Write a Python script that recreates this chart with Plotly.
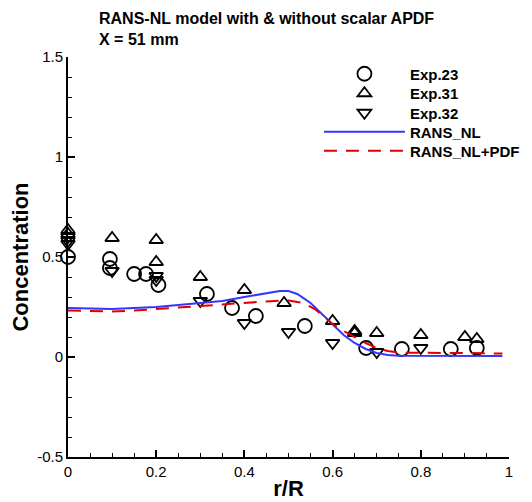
import plotly.graph_objects as go

# ---- data ----
exp23_r = [0, 0.095, 0.095, 0.15, 0.177, 0.205, 0.315, 0.372, 0.426, 0.537, 0.676, 0.757, 0.868, 0.927]
exp23_c = [0.50, 0.49, 0.445, 0.415, 0.415, 0.36, 0.315, 0.245, 0.205, 0.155, 0.045, 0.04, 0.04, 0.045]

exp31_r = [0, 0, 0.10, 0.20, 0.20, 0.30, 0.40, 0.49, 0.60, 0.65, 0.65, 0.70, 0.80, 0.90, 0.927]
exp31_c = [0.635, 0.615, 0.595, 0.585, 0.475, 0.40, 0.335, 0.27, 0.18, 0.13, 0.12, 0.12, 0.11, 0.10, 0.09]

exp32_r = [0, 0, 0, 0.10, 0.20, 0.20, 0.30, 0.40, 0.50, 0.60, 0.70, 0.80]
exp32_c = [0.60, 0.58, 0.565, 0.43, 0.405, 0.385, 0.28, 0.17, 0.125, 0.07, 0.025, 0.045]

nl_r = [0, 0.05, 0.1, 0.15, 0.2, 0.25, 0.3, 0.35, 0.4, 0.45, 0.48, 0.5, 0.52, 0.55, 0.575,
        0.6, 0.625, 0.65, 0.675, 0.7, 0.725, 0.75, 0.8, 0.85, 0.9, 0.95, 0.985]
nl_c = [0.245, 0.243, 0.24, 0.245, 0.25, 0.26, 0.27, 0.28, 0.30, 0.32, 0.33, 0.33, 0.315, 0.27, 0.215,
        0.16, 0.11, 0.07, 0.04, 0.02, 0.01, 0.006, 0.005, 0.005, 0.005, 0.005, 0.005]

pdf_r = [0, 0.05, 0.1, 0.15, 0.2, 0.25, 0.3, 0.35, 0.4, 0.45, 0.5, 0.53, 0.56, 0.6, 0.625,
         0.65, 0.675, 0.7, 0.725, 0.75, 0.8, 0.85, 0.9, 0.95, 0.985]
pdf_c = [0.232, 0.23, 0.228, 0.232, 0.24, 0.248, 0.255, 0.262, 0.27, 0.278, 0.283, 0.272, 0.24, 0.165, 0.13,
         0.1, 0.07, 0.045, 0.03, 0.022, 0.02, 0.02, 0.02, 0.018, 0.017]

y_ticks = [-0.5, 0, 0.5, 1, 1.5]
y_tick_labels = ["-0.5", "0", "0.5", "1", "1.5"]
x_ticks = [0, 0.2, 0.4, 0.6, 0.8, 1]
x_tick_labels = ["0", "0.2", "0.4", "0.6", "0.8", "1"]

title_text = "RANS-NL model with & without scalar APDF<br>X = 51 mm"

FONT = "Liberation Sans, Arial, sans-serif"

fig = go.Figure()
fig.add_trace(go.Scatter(x=exp23_r, y=exp23_c, mode="markers", name="Exp.23", cliponaxis=False,
                         legend="legend",
                         marker=dict(symbol="circle-open", size=14, color="black", line=dict(width=1.8))))
fig.add_trace(go.Scatter(x=exp31_r, y=exp31_c, mode="markers", name="Exp.31", cliponaxis=False,
                         legend="legend2",
                         marker=dict(symbol="triangle-up-open", size=12, color="black", line=dict(width=1.8))))
fig.add_trace(go.Scatter(x=exp32_r, y=exp32_c, mode="markers", name="Exp.32", cliponaxis=False,
                         legend="legend3",
                         marker=dict(symbol="triangle-down-open", size=12, color="black", line=dict(width=1.8))))
fig.add_trace(go.Scatter(x=nl_r, y=nl_c, mode="lines", name="RANS_NL", legend="legend4",
                         line=dict(color="#3535ff", width=2)))
fig.add_trace(go.Scatter(x=pdf_r, y=pdf_c, mode="lines", name="RANS_NL+PDF", legend="legend5",
                         line=dict(color="#e00000", width=2, dash="13px,9px")))

fig.add_annotation(text=title_text, xref="paper", yref="paper", x=0.0658, y=1.07,
                   xanchor="left", yanchor="middle", align="left", showarrow=False,
                   font=dict(family=FONT, size=16, weight="bold", color="black"))

legend_font = dict(family=FONT, size=15, weight="bold", color="black")
legend_rows = [0.9575, 0.90875, 0.86, 0.8125, 0.765]
legend_cfg = {}
for i, yy in enumerate(legend_rows):
    key = "legend" if i == 0 else f"legend{i + 1}"
    legend_cfg[key] = dict(x=0.569, y=yy, xanchor="left", yanchor="middle",
                           bgcolor="rgba(0,0,0,0)", itemwidth=81, font=legend_font)

fig.update_layout(
    width=532, height=502,
    margin=dict(l=68, r=23, t=57, b=45, autoexpand=False),
    paper_bgcolor="white", plot_bgcolor="white",
    font=dict(family=FONT, size=15, color="black"),
    showlegend=True,
    **legend_cfg,
)

fig.update_xaxes(
    range=[0, 1], showgrid=False, zeroline=False, automargin=False,
    showline=True, linecolor="black", linewidth=2,
    ticks="inside", ticklen=7, tickwidth=1.5, tickcolor="black",
    tickvals=x_ticks, ticktext=x_tick_labels,
    tickfont=dict(family=FONT, size=15, color="black"),
    minor=dict(dtick=0.05, tick0=0, ticks="inside", ticklen=4, tickwidth=1, tickcolor="black"),
    title=dict(text="r/R", standoff=2, font=dict(family=FONT, size=22, weight="bold", color="black")),
)
fig.update_yaxes(
    range=[-0.5, 1.5], showgrid=False, zeroline=False, automargin=False,
    showline=True, linecolor="black", linewidth=2,
    ticks="inside", ticklen=7, tickwidth=1.5, tickcolor="black",
    tickvals=y_ticks, ticktext=y_tick_labels,
    tickfont=dict(family=FONT, size=15, color="black"),
    minor=dict(dtick=0.1, tick0=0, ticks="inside", ticklen=4, tickwidth=1, tickcolor="black"),
    title=dict(text="Concentration", standoff=2, font=dict(family=FONT, size=22, weight="bold", color="black")),
)

fig.write_html("out.html")
